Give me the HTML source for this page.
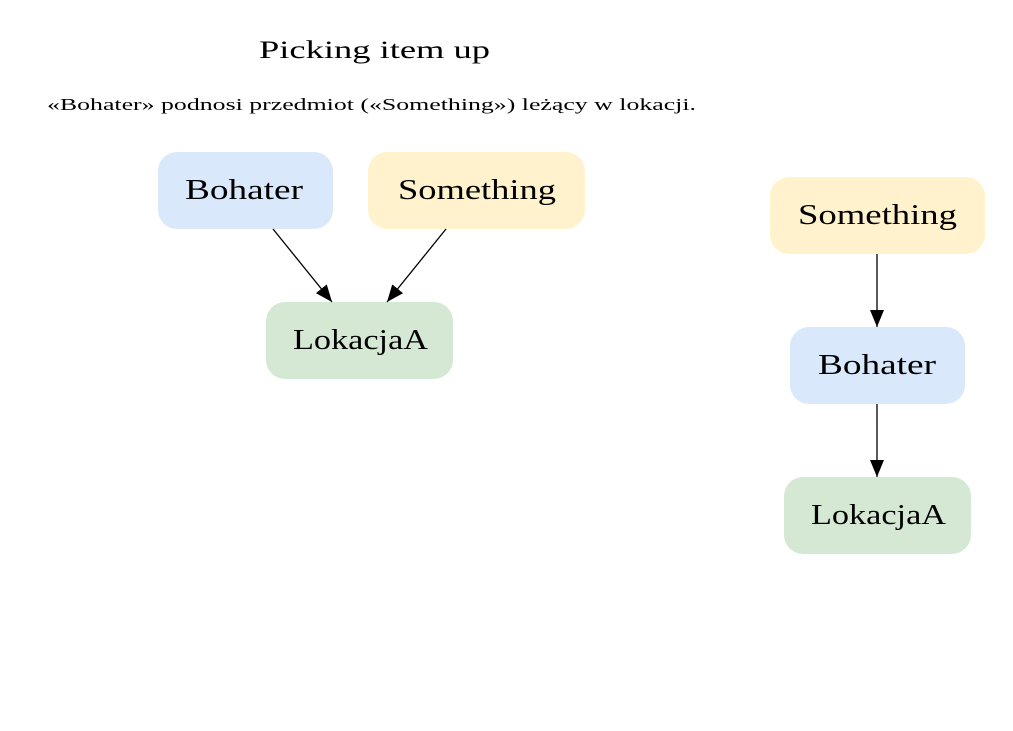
<!DOCTYPE html>
<html><head><meta charset="utf-8"><style>html,body{margin:0;padding:0;background:#fff;width:1013px;height:731px;overflow:hidden}
text{font-family:"Liberation Serif",serif}.n{font-size:28px}.t{font-size:25px}.s{font-size:17px}</style></head>
<body>
<svg width="1013" height="731" viewBox="0 0 1013 731" xmlns="http://www.w3.org/2000/svg">
<defs><marker id="b" markerWidth="18" markerHeight="16" refX="17" refY="7" orient="auto" markerUnits="userSpaceOnUse"><path d="M0,0 L17,7 L0,14 z" fill="#000"/></marker></defs>
<text class="t" x="259" y="58" textLength="231" lengthAdjust="spacingAndGlyphs">Picking item up</text>
<text class="s" x="47" y="110" textLength="649" lengthAdjust="spacingAndGlyphs">«Bohater» podnosi przedmiot («Something») leżący w lokacji.</text>
<rect x="158" y="152" width="175" height="77" rx="19" fill="#dae8fc"/>
<text class="n" x="185" y="199" textLength="118" lengthAdjust="spacingAndGlyphs">Bohater</text>
<rect x="368" y="152" width="217" height="77" rx="19" fill="#fff2cc"/>
<text class="n" x="398" y="199" textLength="158" lengthAdjust="spacingAndGlyphs">Something</text>
<rect x="266" y="302" width="187" height="77" rx="19" fill="#d5e8d4"/>
<text class="n" x="293" y="349" textLength="135" lengthAdjust="spacingAndGlyphs">LokacjaA</text>
<line x1="273" y1="229" x2="332" y2="302" stroke="#000" stroke-width="1.3" marker-end="url(#b)"/>
<line x1="446" y1="229" x2="387" y2="302" stroke="#000" stroke-width="1.3" marker-end="url(#b)"/>
<rect x="770" y="177" width="215" height="77" rx="19" fill="#fff2cc"/>
<text class="n" x="798" y="224" textLength="159" lengthAdjust="spacingAndGlyphs">Something</text>
<rect x="790" y="327" width="175" height="77" rx="19" fill="#dae8fc"/>
<text class="n" x="818" y="374" textLength="118" lengthAdjust="spacingAndGlyphs">Bohater</text>
<rect x="784" y="477" width="187" height="77" rx="19" fill="#d5e8d4"/>
<text class="n" x="811" y="524" textLength="135" lengthAdjust="spacingAndGlyphs">LokacjaA</text>
<line x1="877" y1="254" x2="877" y2="327" stroke="#000" stroke-width="1.3" marker-end="url(#b)"/>
<line x1="877" y1="404" x2="877" y2="477" stroke="#000" stroke-width="1.3" marker-end="url(#b)"/>
</svg>
</body></html>
